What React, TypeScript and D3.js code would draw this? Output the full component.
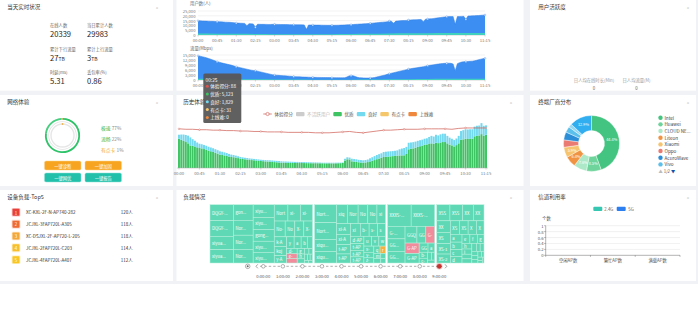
import React from 'react';
import * as d3 from 'd3';

const FONT = '"Noto Sans CJK SC","Noto Sans",sans-serif';

// ---------------- data ----------------
const statLabels = ['在线人数', '当日累计人数', '累计下行流量', '累计上行流量', '时延(ms)', '丢包率(%)'];
const statValues = ['20339', '29983', '27', '3', '5.31', '0.86'];
const statUnits = ['', '', 'TB', 'TB', '', ''];

const timeLabels = ['00:00', '00:45', '01:30', '02:15', '03:00', '03:45', '04:30', '05:15', '06:00', '06:45', '07:30', '08:15', '09:00', '09:45', '10:30', '11:15'];

// users every 5 min, 00:00 - 11:15
const usersTotal = [
  14900, 14800, 14700, 14600, 14500, 14400, 14300, 14200, 14100, 13900, 13800, 13700,
  13600, 13400, 13300, 13200, 13000, 12800, 12500, 12400, 12300, 12200, 12100, 9700,
  11800, 11700, 11500, 8000, 11200, 11150, 11100, 11100, 11050, 11000, 11000, 11100,
  11100, 11050, 11000, 10950, 10900, 10900, 10850, 10800, 10800, 10770, 10700, 10650,
  10600, 10550, 10500, 5900, 10450, 10400, 10400, 10350, 10300, 10300, 10250, 10200,
  10150, 10100, 10100, 10070, 10100, 10150, 10200, 10300, 10400, 10500, 10600, 10700,
  10800, 10950, 11100, 11250, 11400, 11550, 11700, 11800, 11950, 12150, 12350, 12600,
  12800, 13000, 13200, 13400, 13600, 13800, 14600, 14400, 12150, 14500, 14700, 14900,
  15000, 15100, 15200, 15630, 15700, 15800, 15900, 16000, 16100, 16200, 13900, 16500,
  16670, 16800, 17000, 17300, 17600, 17900, 18200, 18500, 18800, 19100, 19150, 19200,
  19150, 11150, 19200, 19300, 19400, 19500, 16350, 19800, 19900, 20000, 20100, 20200,
  20300, 20500, 20700, 20840,
];
// 45-min samples
const users24G = [1500, 1400, 1200, 1000, 900, 900, 900, 900, 1000, 1200, 1500, 1700, 1900, 2000, 2100, 2200];

const trafficTotal = [
  14580, 14300, 14000, 13700, 13300, 12900, 12500, 12000, 11500, 11000, 10700, 10300,
  10000, 9700, 9400, 9100, 8800, 8400, 8000, 7700, 7400, 7100, 6800, 6500,
  6200, 5900, 5700, 5600, 5300, 5000, 4700, 4400, 4100, 3800, 3500, 3200,
  3000, 2900, 2800, 2700, 2600, 2500, 2400, 2300, 2200, 2100, 2000, 1950,
  1900, 1850, 1800, 1750, 1700, 1650, 1600, 1580, 1560, 1540, 1520, 1500,
  1480, 1460, 1440, 1420, 1400, 1390, 1380, 1370, 1360, 1400, 1800, 2400,
  2600, 2500, 2100, 1600, 1400, 1300, 1250, 1200, 1200, 1200, 1300, 1500,
  1800, 2100, 2400, 2700, 3000, 3400, 3800, 4100, 4400, 4700, 5000, 5300,
  5600, 5900, 6200, 6600, 6800, 7000, 7200, 7400, 7600, 7800, 8000, 8300,
  8600, 8800, 9000, 9200, 9400, 9600, 9800, 9900, 10000, 10000, 10100, 10000,
  9600, 5600, 9800, 10400, 10800, 11000, 11000, 11100, 11200, 11300, 11500, 11800,
  12200, 12500, 12800, 13000,
];
const traffic24G = [700, 600, 500, 400, 300, 250, 200, 200, 200, 250, 400, 500, 600, 700, 700, 800];

// history experience, every 5 min
const excellent = [
  6650, 6400, 6150, 5900, 5600, 5123, 5050, 4900, 4700, 4540, 4450, 4300,
  4150, 3950, 3800, 3650, 3450, 3250, 3020, 2950, 2850, 2750, 2600, 2500,
  2450, 2350, 2250, 2110, 2050, 1980, 1920, 1850, 1800, 1750, 1700, 1650,
  1590, 1550, 1500, 1460, 1420, 1380, 1340, 1300, 1250, 1200, 1190, 1180,
  1170, 1160, 1150, 1140, 1150, 1130, 1135, 1120, 1110, 1100, 1090, 1080,
  1090, 1080, 1070, 1070, 1060, 1050, 1060, 1050, 1040, 1060, 1080, 1100,
  1150, 1700, 1975, 1950, 1520, 1450, 1400, 1300, 1250, 1200, 1250, 1350,
  1500, 1650, 1800, 2000, 2150, 2300, 2500, 2550, 2600, 2650, 2700, 2750,
  2800, 2850, 2870, 2880, 3200, 4245, 4350, 4450, 4600, 4800, 4950, 5100,
  5290, 5350, 5450, 5600, 5500, 5750, 5650, 5800, 5900, 5900, 5600, 5300,
  5140, 4900, 5200, 5600, 6400, 6500, 6650, 6600, 6700, 6650, 7200, 7300,
  7400, 7700, 7300, 7560,
];
const good = [
  910, 1200, 1450, 1600, 1750, 1829, 1500, 1300, 1100, 980, 950, 920,
  900, 880, 860, 840, 820, 800, 770, 740, 700, 650, 600, 550,
  500, 460, 420, 390, 370, 350, 340, 330, 320, 310, 300, 295,
  290, 290, 300, 310, 320, 330, 320, 320, 330, 320, 300, 290,
  280, 270, 260, 250, 240, 230, 225, 220, 215, 210, 200, 190,
  180, 170, 160, 130, 140, 150, 140, 150, 160, 150, 140, 120,
  100, 400, 455, 420, 590, 580, 570, 560, 550, 550, 560, 580,
  700, 800, 900, 950, 1000, 1050, 1130, 1150, 1160, 1150, 1140, 1160,
  1200, 1400, 1550, 1660, 1600, 1495, 1450, 1420, 1400, 1380, 1360, 1350,
  1360, 1400, 1600, 1700, 1650, 1800, 1750, 1850, 1900, 1890, 1700, 1600,
  1510, 1450, 1500, 1700, 2000, 2100, 2135, 2150, 2100, 2150, 2200, 2300,
  2250, 2500, 2300, 2130,
];
// score every 15 min
const score = [
  89, 88, 88, 87, 87, 86, 86, 85, 85, 84, 84, 83, 83, 82, 82, 82,
  81, 81, 81, 81, 80, 80, 80, 81, 82, 83, 81, 80, 82, 84, 86, 86,
  87, 88, 88, 88, 89, 89, 89, 89, 88, 90, 91, 91, 91, 91,
];
const histLegend = ['体验得分', '不活跃用户', '优质', '良好', '有点卡', '上线难'];
const histLegendColors = ['#d0574f', '#cccccc', '#3ec463', '#72d9ef', '#f6c66a', '#ef873c'];
const tooltipTime = '00:25';
const tooltipItems = ['体验得分: 88', '优质: 5,123', '良好: 1,829', '有点卡: 31', '上线难: 0'];
const tooltipColors = ['#d9534f', '#3ec463', '#72d9ef', '#f6c66a', '#ef873c'];

// network health
const healthLabels = ['极速', '流畅', '有点卡'];
const healthPct = [77, 22, 1];
const healthColors = ['#2fc46a', '#45cf7e', '#f5a623'];
const healthTextColors = ['#39b54a', '#39b54a', '#f5a623'];
const buttonLabels = ['一键诊断', '一键加固', '一键网优', '一键报告'];

// vendors
const vendors = ['Intel', 'Huawei', 'CLOUD NETWORK', 'Liteon', 'Xiaomi', 'Oppo', 'AcuroWave', 'Vivo', 'Apple', '其他'];
const vendorShare = [44.4, 8.5, 7.6, 6.4, 5.9, 4.3, 4.6, 3.4, 2.0, 12.9];
const vendorColors = ['#43c480', '#6fd49b', '#ade9c8', '#f09443', '#f6c46f', '#ea7b72', '#2d8ed8', '#5cc0ec', '#97d8f2', '#31aef0'];

// top5
const top5Names = ['XC-KXL-2F-N-AP740-282', 'JCJXL-3FAP720L-A305', 'XC-DSJXL-2F-AP720-L-205', 'JCJXL-2FAP720L-C203', 'JCJXL-4FAP720L-A407'];
const top5Users = [120, 118, 118, 114, 112];
const top5Colors = ['#e8413c', '#ef6b34', '#f4a83a', '#f7bf2e', '#f9c623'];

// load treemap: [name, users, level]
const loadGroup1: [string, number, number][] = [
  ['DQGY-2F-AP01', 368], ['DQGY-3F-AP02', 359], ['xiyuan-1F-AP03', 308], ['xiyuan-2F-AP04', 306], ['gongxue-1F-AP05', 302],
  ['North-1F-AP06', 290], ['North-2F-AP07', 275], ['xiyuan-3F-AP08', 263], ['North-3F-AP09', 265], ['xiyuan-4F-AP10', 250],
  ['gongxue-2F-AP11', 243], ['xiyuan-5F-AP12', 230], ['xiyuan-6F-AP13', 221], ['North-4F-AP14', 220], ['xi-AP15', 200],
  ['xi-AP16', 195], ['No-AP17', 170], ['Nor-AP18', 150], ['X-AP19', 140], ['X-AP20', 135], ['k-AP21', 120], ['koji-AP22', 110],
  ['y-AP23', 90], ['y-AP24', 85], ['a-AP25', 80], ['b-AP26', 70], ['c-AP27', 60], ['d-AP28', 55], ['e-AP29', 50, 1], ['f-AP30', 45, 1],
  ['g-AP31', 40], ['h-AP32', 35], ['i-AP33', 30], ['j-AP34', 25], ['k-AP35', 20], ['l-AP36', 20], ['m-AP37', 15], ['n-AP38', 15],
  ['o-AP39', 10], ['p-AP40', 10],
].map((d) => [d[0] as string, d[1] as number, (d[2] as number) || 0]);
const loadGroup2: [string, number, number][] = [
  ['North-5F-AP01', 390], ['North-6F-AP02', 362], ['xiqu3lou-AP03', 260], ['xiqu3lou-AP04', 250], ['xiqu-AP05', 200], ['North-7F-AP06', 200],
  ['No-AP07', 180], ['No-AP08', 170], ['xiqu-AP09', 160], ['xi-AP10', 150], ['xi-AP11', 140], ['t-AP12', 130], ['t-AP13', 125],
  ['xi-AP14', 120], ['b-AP15', 110], ['s-AP16', 105], ['s-AP17', 100], ['d-AP18', 95], ['t-AP19', 90], ['t-AP20', 85], ['t-AP21', 80],
  ['u-AP22', 75], ['v-AP23', 70], ['w-AP24', 65], ['x-AP25', 60], ['y-AP26', 55], ['z-AP27', 50], ['q-AP28', 45], ['r-AP29', 40, 2],
  ['m-AP30', 35], ['n-AP31', 30], ['o-AP32', 25], ['p-AP33', 20],
].map((d) => [d[0] as string, d[1] as number, (d[2] as number) || 0]);
const loadGroup3: [string, number, number][] = [
  ['XXXS-1F-AP01', 500], ['XXXS-2F-AP02', 500], ['G-AP03', 216], ['GGQ-1F-AP04', 214], ['GGQ-2F-AP05', 200], ['GGQ-3F-AP06', 196],
  ['GG-AP07', 147], ['G-AP08', 146, 1], ['G-AP09', 146, 1], ['G-AP10', 130], ['GG-AP11', 80], ['a-AP12', 60], ['b-AP13', 50],
  ['c-AP14', 40], ['d-AP15', 30], ['e-AP16', 25], ['f-AP17', 20],
].map((d) => [d[0] as string, d[1] as number, (d[2] as number) || 0]);
const loadGroup4: [string, number, number][] = [
  ['XSS', 210], ['XSS', 200], ['XX', 170], ['XX', 170], ['XX', 155], ['XS', 150], ['XS-1F-AP01', 140], ['XS-2F-AP02', 120],
  ['XS-3F-AP03', 120], ['XS-4F-AP04', 115], ['X', 110], ['XX', 100], ['a', 90], ['b', 85], ['c', 80], ['d', 75], ['e', 70], ['f', 65],
  ['g', 60], ['h', 55], ['i', 50], ['j', 45], ['k', 40], ['l', 35], ['m', 30], ['n', 30], ['o', 25], ['p', 25], ['q', 20], ['r', 20],
  ['s', 15], ['t', 15], ['u', 10], ['v', 10],
].map((d) => [d[0] as string, d[1] as number, (d[2] as number) || 0]);
const loadGroups = [loadGroup1, loadGroup2, loadGroup3, loadGroup4];
const loadLevelColors = ['#5fd9b5', '#f08c9c', '#f5b13d'];
const timelineLabels = ['0:00:00', '1:00:00', '2:00:00', '3:00:00', '4:00:00', '5:00:00', '6:00:00', '7:00:00', '8:00:00', '9:00:00'];

// channel utilization
const channelCats = ['空闲AP数', '繁忙AP数', '满载AP数'];
const channelTicks = [0, 0.2, 0.4, 0.6, 0.8, 1];
const channelSeries = ['2.4G', '5G'];
const channelColors = ['#35c7b2', '#2d7ff0'];

const activityLabels = ['日人均在线时长(Min)', '日人均流量(M)'];
const activityValues = ['0', '0'];

// ---------------- layout ----------------
const ROWS: [number, number][] = [[0, 90.7], [95, 186], [190, 281]];
const COLS: [number, number][] = [[0, 173], [176.5, 523.5], [530, 696]];

function Title({ x, y, text }: { x: number; y: number; text: string }) {
  return (
    <text x={x} y={y} fontSize={5.5} fill="#333" dominantBaseline="central">{text}</text>
  );
}
function More({ x, y }: { x: number; y: number }) {
  return (
    <text x={x} y={y} fontSize={5} fill="#bbb" textAnchor="middle" dominantBaseline="central">»</text>
  );
}

function StatsPanel() {
  const colX = [50, 87];
  const rowY = [25, 49, 72];
  return (
    <g>
      <Title x={7.3} y={7} text="当天实时状况" />
      <More x={157} y={6} />
      {statLabels.map((l, i) => {
        const cx = colX[i % 2];
        const ry = rowY[Math.floor(i / 2)];
        return (
          <g key={i}>
            <text x={cx} y={ry} fontSize={4.3} fill="#666" dominantBaseline="central">{l}</text>
            <text x={cx} y={ry + 12} fontSize={7.6} fill="#1f1f1f">
              {statValues[i]}
              <tspan fontSize={5}>{statUnits[i]}</tspan>
            </text>
          </g>
        );
      })}
    </g>
  );
}

function TrendChart({ values, teal, max, step, top, bottom, name, nameY, labelY }: any) {
  const x = d3.scaleLinear().domain([0, values.length - 1]).range([198, 485]);
  const y = d3.scaleLinear().domain([0, max]).range([bottom, top]);
  const ticks = d3.range(0, max + 1, step);
  const area = d3.area<number>().x((d, i) => x(i)).y0(y(0)).y1((d) => y(d));
  const line = d3.line<number>().x((d, i) => x(i)).y((d) => y(d));
  const tealArea = d3.area<number>().x((d, i) => x(i * 9)).y0(y(0)).y1((d) => y(d)).curve(d3.curveMonotoneX);
  const fmt = d3.format(',');
  return (
    <g>
      <text x={190} y={nameY} fontSize={4.4} fill="#666" dominantBaseline="central">{name}</text>
      {ticks.map((t) => (
        <g key={t}>
          <line x1={198} x2={485} y1={y(t)} y2={y(t)} stroke={t === 0 ? '#aaa' : '#e6e6e6'} strokeWidth={0.5} />
          <text x={195.5} y={y(t)} fontSize={4.2} fill="#777" textAnchor="end" dominantBaseline="central">{fmt(t)}</text>
        </g>
      ))}
      <path d={area(values) || ''} fill="#3d8ef2" />
      <path d={line(values) || ''} fill="none" stroke="#2c7fe6" strokeWidth={0.5} />
      <path d={tealArea(teal) || ''} fill="#3fd0bf" />
      {timeLabels.map((lab, k) => (
        <g key={lab}>
          <circle cx={x(k * 9)} cy={y(values[k * 9])} r={0.9} fill="#e8f1fd" stroke="#2c7fe6" strokeWidth={0.3} />
          <line x1={x(k * 9)} x2={x(k * 9)} y1={y(0)} y2={y(0) + 1.5} stroke="#aaa" strokeWidth={0.5} />
          <text x={x(k * 9)} y={labelY} fontSize={4.2} fill="#777" textAnchor="middle" dominantBaseline="central">{lab}</text>
        </g>
      ))}
    </g>
  );
}

function TrendPanel() {
  return (
    <g>
      <TrendChart values={usersTotal} teal={users24G} max={25000} step={5000} top={11} bottom={35} name="用户数(人)" nameY={3} labelY={40} />
      <TrendChart values={trafficTotal} teal={traffic24G} max={15000} step={3000} top={55} bottom={80} name="流量(Mbps)" nameY={48} labelY={84.5} />
    </g>
  );
}

function ActivityPanel() {
  const xs = [594, 636.5];
  return (
    <g>
      <Title x={538.3} y={7} text="用户活跃度" />
      <More x={688} y={6} />
      {activityLabels.map((l, i) => (
        <g key={l}>
          <text x={xs[i]} y={80} fontSize={4.3} fill="#999" textAnchor="middle" dominantBaseline="central">{l}</text>
          <text x={xs[i]} y={88} fontSize={4.3} fill="#666" textAnchor="middle" dominantBaseline="central">{activityValues[i]}</text>
        </g>
      ))}
    </g>
  );
}

function HealthPanel() {
  const cx = 62.5, cy = 135.5;
  const pie = d3.pie<number>().sort(null).value((d) => d);
  const arcs = pie(healthPct);
  const outer = d3.arc<any>().innerRadius(15.8).outerRadius(17.6);
  const track = d3.arc<any>()({ innerRadius: 15.8, outerRadius: 17.6, startAngle: 0, endAngle: Math.PI * 2 } as any);
  const mid = d3.arc<any>()({ innerRadius: 13.4, outerRadius: 14.2, startAngle: 0, endAngle: Math.PI * 2 } as any);
  const inner = d3.arc<any>()({ innerRadius: 10.8, outerRadius: 12.2, startAngle: 0, endAngle: Math.PI * 2 } as any);
  const innerOrange = d3.arc<any>()({ innerRadius: 10.8, outerRadius: 12.2, startAngle: -0.06, endAngle: 0.06 } as any);
  const btnX = [44.5, 85];
  const btnY = [161, 173];
  return (
    <g>
      <Title x={7.3} y={102} text="网络体验" />
      <More x={157} y={101} />
      <g transform={`translate(${cx},${cy})`}>
        <path d={track || ''} fill="#e8e8e8" />
        {arcs.map((a, i) => (
          <path key={i} d={outer(a) || ''} fill={healthColors[i]} />
        ))}
        <path d={mid || ''} fill="#e2e2e2" />
        <path d={inner || ''} fill="#e6e6e6" />
        <path d={innerOrange || ''} fill="#f5a623" />
      </g>
      {healthLabels.map((l, i) => (
        <text key={l} x={101} y={127 + i * 11} fontSize={4.8} dominantBaseline="central">
          <tspan fill={healthTextColors[i]}>{l}</tspan>
          <tspan fill="#888"> {healthPct[i]}%</tspan>
        </text>
      ))}
      {buttonLabels.map((b, i) => {
        const bx = btnX[i % 2];
        const by = btnY[Math.floor(i / 2)];
        const orange = i < 2;
        return (
          <g key={b}>
            <rect x={bx} y={by} width={36.5} height={9} rx={1.5} fill={orange ? '#f7a520' : '#20c0aa'} stroke={orange ? '#fbd38a' : '#8ee3d6'} strokeWidth={0.5} />
            <text x={bx + 18.25} y={by + 4.6} fontSize={4.3} fill="#fff" textAnchor="middle" dominantBaseline="central">{b}</text>
          </g>
        );
      })}
    </g>
  );
}

function HistoryPanel() {
  const idx = d3.range(excellent.length);
  const x = d3.scaleBand<number>().domain(idx).range([178, 487]).paddingInner(0.14);
  const y = d3.scaleLinear().domain([0, 10000]).range([168, 124]);
  const sy = d3.scaleLinear().domain([0, 100]).range([168, 124]);
  const rows = idx.map((i) => ({ excellent: excellent[i], good: good[i] }));
  const stack = d3.stack<any>().keys(['excellent', 'good'])(rows);
  const colors = ['#3ec463', '#72d9ef'];
  const cxOf = (i: number) => (x(i) || 0) + x.bandwidth() / 2;
  const scoreLine = d3.line<number>().x((d, j) => cxOf(j * 3)).y((d) => sy(d));
  const fs = 4.6;
  let lx = 263.3;
  const legendItems = histLegend.map((l, i) => {
    const item = { l, i, x: lx };
    lx += 8.5 + 2.6 + l.length * fs + 3.2;
    return item;
  });
  return (
    <g>
      <Title x={183.3} y={102} text="历史体验" />
      <More x={511} y={101} />
      {legendItems.map(({ l, i, x: ix }) => (
        <g key={l}>
          {i === 0 ? (
            <g>
              <line x1={ix} x2={ix + 8.5} y1={114} y2={114} stroke={histLegendColors[0]} strokeWidth={0.7} />
              <circle cx={ix + 4.25} cy={114} r={1.6} fill="#fff" stroke={histLegendColors[0]} strokeWidth={0.6} />
            </g>
          ) : (
            <rect x={ix} y={112} width={8.5} height={4.2} rx={1} fill={histLegendColors[i]} />
          )}
          <text x={ix + 11.1} y={114} fontSize={fs} fill={i === 1 ? '#bbb' : '#555'} dominantBaseline="central">{l}</text>
        </g>
      ))}
      {stack.map((s, si) => (
        <g key={si} fill={colors[si]}>
          {s.map((d, i) => (
            <rect key={i} x={x(i)} y={y(d[1])} width={x.bandwidth()} height={Math.max(0, y(d[0]) - y(d[1]))} />
          ))}
        </g>
      ))}
      <line x1={177} x2={488} y1={168} y2={168} stroke="#aaa" strokeWidth={0.5} />
      <path d={scoreLine(score) || ''} fill="none" stroke="#cf5a50" strokeWidth={0.7} />
      {score.map((d, j) => (j % 3 === 0 ? <circle key={j} cx={cxOf(j * 3)} cy={sy(d)} r={0.8} fill="#fff" stroke="#cf5a50" strokeWidth={0.4} /> : null))}
      {timeLabels.map((lab, k) => (
        <g key={lab}>
          <line x1={cxOf(k * 9)} x2={cxOf(k * 9)} y1={168} y2={169.5} stroke="#aaa" strokeWidth={0.5} />
          <text x={cxOf(k * 9)} y={172.5} fontSize={4.2} fill="#777" textAnchor="middle" dominantBaseline="central">{lab}</text>
        </g>
      ))}
    </g>
  );
}

function VendorPanel() {
  const cx = 591.5, cy = 143.5;
  const pie = d3.pie<number>().sort(null).value((d) => d);
  const arcs = pie(vendorShare);
  const arc = d3.arc<any>().innerRadius(13).outerRadius(28);
  const labelArc = d3.arc<any>().innerRadius(20.5).outerRadius(20.5);
  const trunc = (s: string) => (s.length > 9 ? s.slice(0, 8) + '...' : s);
  return (
    <g>
      <Title x={538.3} y={102} text="终端厂商分布" />
      <More x={688} y={101} />
      <g transform={`translate(${cx},${cy})`}>
        {arcs.map((a, i) => (
          <path key={i} d={arc(a) || ''} fill={vendorColors[i]} stroke="#fff" strokeWidth={0.4} />
        ))}
        {arcs.map((a, i) => {
          if (vendorShare[i] < 5) return null;
          const [lx, ly] = labelArc.centroid(a);
          return (
            <text key={i} x={lx} y={ly} fontSize={3.8} fill="#fff" textAnchor="middle" dominantBaseline="central">{vendorShare[i]}%</text>
          );
        })}
      </g>
      {vendors.slice(0, 8).map((v, i) => (
        <g key={v}>
          <circle cx={660.5} cy={117.7 + i * 6.67} r={2.2} fill={vendorColors[i]} />
          <text x={664.5} y={117.7 + i * 6.67} fontSize={4.6} fill="#444" dominantBaseline="central">{trunc(v)}</text>
        </g>
      ))}
      <text x={658.5} y={171.3} fontSize={4.2} dominantBaseline="central">
        <tspan fill="#bbb">▲</tspan>
        <tspan fill="#555"> 1/2 </tspan>
        <tspan fill="#1d4fa0">▼</tspan>
      </text>
    </g>
  );
}

function TopPanel() {
  return (
    <g>
      <Title x={7.3} y={197} text="设备负载-Top5" />
      <More x={157} y={196} />
      {top5Names.map((n, i) => {
        const ry = 212.3 + i * 11.85;
        return (
          <g key={n}>
            <rect x={11.7} y={ry - 4.3} width={8.6} height={8.6} rx={1} fill={top5Colors[i]} opacity={0.3} />
            <rect x={12.5} y={ry - 3.5} width={7} height={7} rx={0.8} fill={top5Colors[i]} />
            <text x={16} y={ry + 0.2} fontSize={4.3} fill="#fff" textAnchor="middle" dominantBaseline="central">{i + 1}</text>
            <text x={26} y={ry} fontSize={4.5} fill="#333" dominantBaseline="central">{n}</text>
            <text x={120.7} y={ry} fontSize={4.5} fill="#333" dominantBaseline="central">{top5Users[i]}人</text>
          </g>
        );
      })}
    </g>
  );
}

function fitLabel(name: string, w: number, h: number, fs: number) {
  if (h < fs + 0.5) return '';
  const max = Math.floor((w - 3) / (fs * 0.6));
  if (max >= name.length) return name;
  if (max >= 5) return name.slice(0, max - 3) + '...';
  if (max >= 1) return name.slice(0, max);
  return '';
}

function LoadPanel() {
  const left = 210, right = 484, top = 204.7, bottom = 263, gap = 2;
  const sums = loadGroups.map((g) => d3.sum(g, (d) => d[1]));
  const total = d3.sum(sums);
  const wScale = d3.scaleLinear().domain([0, total]).range([0, right - left - gap * (loadGroups.length - 1)]);
  let cum = 0;
  const groups = loadGroups.map((leaves, gi) => {
    const x0 = left + wScale(cum) + gi * gap;
    cum += sums[gi];
    const w = wScale(sums[gi]);
    const root = d3
      .hierarchy<any>({ children: leaves.map((l) => ({ name: l[0], value: l[1], level: l[2] })) })
      .sum((d: any) => d.value || 0)
      .sort((a: any, b: any) => b.value - a.value);
    d3.treemap<any>().tile(d3.treemapSquarify).size([w, bottom - top])(root);
    return { x0, nodes: root.leaves() as any[] };
  });
  const tl = d3.scalePoint<string>().domain(timelineLabels).range([263.3, 439.3]);
  const ty = 266.3;
  const fs = 4.2;
  return (
    <g>
      <Title x={183.3} y={197} text="负载情况" />
      <More x={511} y={196} />
      {groups.map((g, gi) => (
        <g key={gi} transform={`translate(${g.x0},${top})`}>
          {g.nodes.map((n, i) => {
            const w = n.x1 - n.x0, h = n.y1 - n.y0;
            const lab = fitLabel(n.data.name, w, h, fs);
            return (
              <g key={i}>
                <rect x={n.x0} y={n.y0} width={w} height={h} fill={loadLevelColors[n.data.level]} stroke="#b9f0de" strokeWidth={0.5} />
                {lab ? (
                  <text x={n.x0 + 2} y={n.y0 + h / 2} fontSize={fs} fill="#fff" dominantBaseline="central">{lab}</text>
                ) : null}
              </g>
            );
          })}
        </g>
      ))}
      <circle cx={247.7} cy={ty} r={2.3} fill="none" stroke="#666" strokeWidth={0.5} />
      <circle cx={247.7} cy={ty} r={1} fill="#666" />
      <path d={`M${257.8},${ty - 2}L${256},${ty}L${257.8},${ty + 2}`} fill="none" stroke="#666" strokeWidth={0.6} />
      <line x1={260} x2={442} y1={ty} y2={ty} stroke="#777" strokeWidth={0.6} strokeDasharray="2.4,2" />
      {timelineLabels.map((l, i) => {
        const px = tl(l) || 0;
        const last = i === timelineLabels.length - 1;
        return (
          <g key={l}>
            {last ? (
              <g>
                <circle cx={px} cy={ty} r={3.2} fill="#c23531" opacity={0.3} />
                <circle cx={px} cy={ty} r={2.4} fill="#c23531" />
              </g>
            ) : (
              <circle cx={px} cy={ty} r={1.8} fill="#fff" stroke="#666" strokeWidth={0.5} />
            )}
            <text x={px} y={275.5} fontSize={4.2} fill="#555" textAnchor="middle" dominantBaseline="central">{l}</text>
          </g>
        );
      })}
      <path d={`M${445},${ty - 2}L${446.8},${ty}L${445},${ty + 2}`} fill="none" stroke="#666" strokeWidth={0.6} />
    </g>
  );
}

function ChannelPanel() {
  const x = d3.scaleBand<string>().domain(channelCats).range([545.7, 680]);
  const y = d3.scaleLinear().domain([0, 1]).range([255.3, 225.7]);
  const boundaries = [...channelCats.map((c) => x(c) || 0), 680];
  return (
    <g>
      <Title x={538.3} y={197} text="信道利用率" />
      <More x={688} y={196} />
      {channelSeries.map((s, i) => (
        <g key={s}>
          <rect x={593.3 + i * 23.4} y={206.7} width={9} height={4.2} rx={1} fill={channelColors[i]} />
          <text x={604.3 + i * 24} y={208.8} fontSize={4.3} fill="#555" dominantBaseline="central">{s}</text>
        </g>
      ))}
      <text x={546.5} y={218} fontSize={4.3} fill="#555" textAnchor="middle" dominantBaseline="central">个数</text>
      {channelTicks.map((t) => (
        <g key={t}>
          {t > 0 ? <line x1={545.7} x2={680} y1={y(t)} y2={y(t)} stroke="#e3e3e3" strokeWidth={0.5} /> : null}
          <line x1={544.2} x2={545.7} y1={y(t)} y2={y(t)} stroke="#666" strokeWidth={0.5} />
          <text x={543.5} y={y(t)} fontSize={4.2} fill="#555" textAnchor="end" dominantBaseline="central">{t}</text>
        </g>
      ))}
      <line x1={545.7} x2={545.7} y1={225.7} y2={255.3} stroke="#666" strokeWidth={0.5} />
      <line x1={545.7} x2={680} y1={255.3} y2={255.3} stroke="#666" strokeWidth={0.5} />
      {boundaries.map((b, i) => (
        <line key={i} x1={b} x2={b} y1={255.3} y2={256.8} stroke="#666" strokeWidth={0.5} />
      ))}
      {channelCats.map((c) => (
        <text key={c} x={(x(c) || 0) + x.bandwidth() / 2} y={259.8} fontSize={4.3} fill="#555" textAnchor="middle" dominantBaseline="central">{c}</text>
      ))}
    </g>
  );
}

function Tooltip() {
  return (
    <g>
      <rect x={203.3} y={73.5} width={38} height={49.5} rx={1.5} fill="#575757" opacity={0.95} />
      <text x={205.5} y={79} fontSize={4.8} fill="#fff" dominantBaseline="central">{tooltipTime}</text>
      {tooltipItems.map((t, i) => (
        <g key={t}>
          <circle cx={207.3} cy={86.2 + i * 7.8} r={1.5} fill={tooltipColors[i]} />
          <text x={210.2} y={86.2 + i * 7.8} fontSize={4.6} fill="#fff" dominantBaseline="central">{t}</text>
        </g>
      ))}
    </g>
  );
}

export default function App() {
  return (
    <svg width={698} height={318} viewBox="0 0 698 318" style={{ position: 'absolute', left: 0, top: 0, fontFamily: FONT }}>
      <rect x={0} y={0} width={698} height={318} fill="#ffffff" />
      <rect x={0} y={0} width={698} height={284} fill="#f0f2f5" />
      {ROWS.map(([y0, y1], ri) =>
        COLS.map(([x0, x1], ci) => <rect key={`${ri}-${ci}`} x={x0} y={y0} width={x1 - x0} height={y1 - y0} fill="#fff" />)
      )}
      <StatsPanel />
      <TrendPanel />
      <ActivityPanel />
      <HealthPanel />
      <HistoryPanel />
      <VendorPanel />
      <TopPanel />
      <LoadPanel />
      <ChannelPanel />
      <Tooltip />
    </svg>
  );
}
